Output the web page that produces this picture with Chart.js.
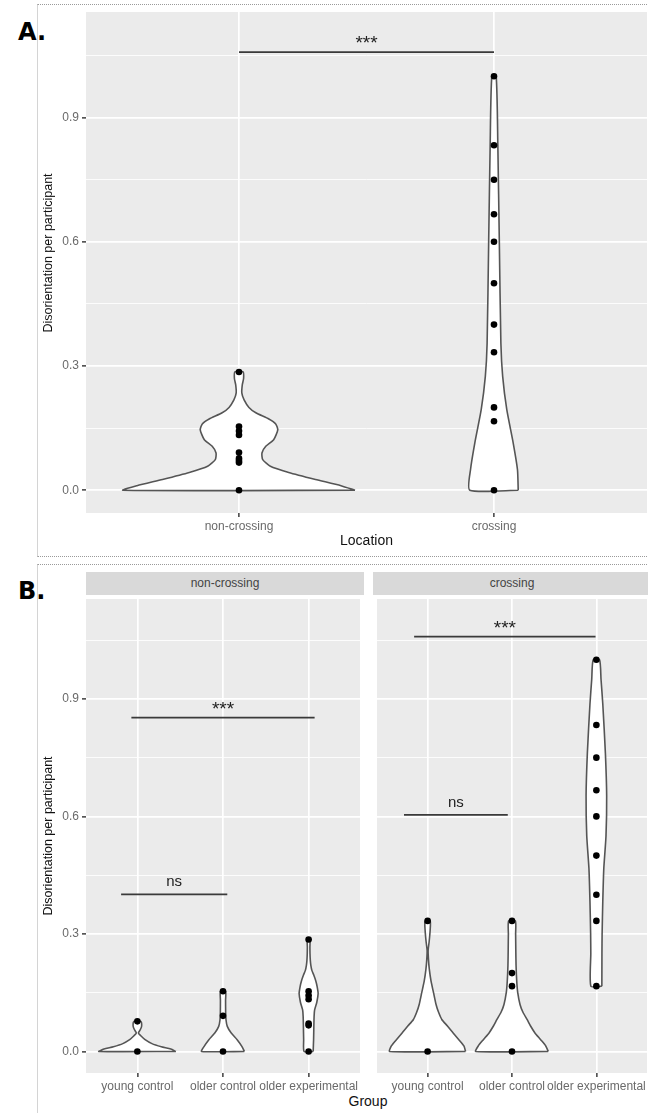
<!DOCTYPE html>
<html>
<head>
<meta charset="utf-8">
<script src="https://cdn.jsdelivr.net/npm/chart.js@4.4.1/dist/chart.umd.min.js"></script>
<style>
html, body { margin:0; padding:0; width:648px; height:1113px; overflow:hidden; background:#fff; position:relative; }
body { font-family:"Liberation Sans", Arial, Helvetica, sans-serif; }
.abs { position:absolute; }
.box { border-top:1px dotted #9a9a9a; border-left:1px solid #d4d4d4; box-sizing:border-box; }
.tag { font-family:"DejaVu Sans", Verdana, sans-serif; font-weight:bold; font-size:24px; line-height:24px; color:#000; }
.strip { background:#D9D9D9; height:23px; line-height:23px; text-align:center; font-size:12px; color:#444; }
.ytitle { width:220px; height:16px; line-height:16px; text-align:center; font-size:12.5px; color:#111; transform:rotate(-90deg); z-index:2; }
canvas { position:absolute; }
</style>
</head>
<body>
<div class="abs box" style="left:37px;top:4px;width:660px;height:553px;border-bottom:1px dotted #9a9a9a;"></div>
<div class="abs box" style="left:37px;top:564px;width:660px;height:600px;"></div>
<div class="abs tag" style="left:18px;top:20px;">A.</div>
<div class="abs tag" style="left:18px;top:579px;">B.</div>
<div class="abs strip" style="left:86px;top:572px;width:278px;">non-crossing</div>
<div class="abs strip" style="left:373px;top:572px;width:278px;">crossing</div>
<div class="abs" style="left:318px;top:1093px;width:100px;text-align:center;font-size:14px;line-height:17px;color:#111;">Group</div>
<div class="abs ytitle" id="ytitleA" style="left:-61.7px;top:245px;"></div>

<canvas id="chartA" width="614" height="552" style="left:37px;top:4px;"></canvas>
<canvas id="chartBL" width="327" height="500" style="left:37px;top:595px;"></canvas>
<canvas id="chartBR" width="278" height="500" style="left:373px;top:595px;"></canvas>

<script>
// ---------------- data ----------------
const locations = ['non-crossing', 'crossing'];
const groups = ['young control', 'older control', 'older experimental'];
const yGridValues = [0, 0.15, 0.3, 0.45, 0.6, 0.75, 0.9, 1.05];
const yTickValues = [0, 0.3, 0.6, 0.9];
const yTickLabels = ['0.0', '0.3', '0.6', '0.9'];
const yAxisTitle = 'Disorientation per participant';
const xTitleA = 'Location';

// Panel A: participant values
const dotsA_noncrossing = [0, 0.0667, 0.0714, 0.0769, 0.0909, 0.1333, 0.1429, 0.1538, 0.2857];
const dotsA_crossing = [0, 0.1667, 0.2, 0.3333, 0.4, 0.5, 0.6, 0.6667, 0.75, 0.8333, 1.0];
// Panel A: violin outlines (level, half width in category units)
const vioA_noncrossing_y = [0, 0.011, 0.026, 0.043, 0.058, 0.074, 0.09, 0.106, 0.122, 0.146, 0.16, 0.172, 0.187, 0.2, 0.218, 0.235, 0.255, 0.27, 0.2857];
const vioA_noncrossing_w = [0.455, 0.40, 0.30, 0.195, 0.123, 0.093, 0.09, 0.105, 0.136, 0.152, 0.144, 0.117, 0.066, 0.039, 0.02, 0.011, 0.013, 0.018, 0.016];
const vioA_crossing_y = [0, 0.05, 0.115, 0.195, 0.275, 0.355, 0.595, 0.835, 1.0];
const vioA_crossing_w = [0.095, 0.092, 0.075, 0.05, 0.034, 0.027, 0.021, 0.015, 0.0085];
// Panel A: significance
const sigA_text = ['***'];
const sigA_x0 = [0];
const sigA_x1 = [1];
const sigA_y = [1.058];

// Panel B, non-crossing facet
const dotsBN_young = [0, 0.0769];
const dotsBN_olderCtrl = [0, 0.0909, 0.1538];
const dotsBN_olderExp = [0, 0.0667, 0.0714, 0.1333, 0.1429, 0.1538, 0.2857];
const vioBN_young_y = [0, 0.006, 0.012, 0.02, 0.03, 0.04, 0.047, 0.056, 0.065, 0.0769];
const vioBN_young_w = [0.45, 0.39, 0.28, 0.17, 0.09, 0.04, 0.012, 0.035, 0.05, 0.04];
const vioBN_olderCtrl_y = [0, 0.013, 0.03, 0.047, 0.064, 0.081, 0.1, 0.13, 0.1538];
const vioBN_olderCtrl_w = [0.25, 0.22, 0.165, 0.096, 0.05, 0.035, 0.031, 0.03, 0.03];
const vioBN_olderExp_y = [0, 0.03, 0.064, 0.09, 0.106, 0.125, 0.148, 0.165, 0.18, 0.195, 0.207, 0.22, 0.232, 0.25, 0.266, 0.2857];
const vioBN_olderExp_w = [0.053, 0.058, 0.061, 0.064, 0.07, 0.095, 0.111, 0.1, 0.084, 0.06, 0.038, 0.026, 0.02, 0.016, 0.015, 0.015];
const sigBN_text = ['***', 'ns'];
const sigBN_x0 = [-0.07, -0.19];
const sigBN_x1 = [2.07, 1.05];
const sigBN_y = [0.852, 0.401];

// Panel B, crossing facet
const dotsBC_young = [0, 0.3333];
const dotsBC_olderCtrl = [0, 0.1667, 0.2, 0.3333];
const dotsBC_olderExp = [0.1667, 0.3333, 0.4, 0.5, 0.6, 0.6667, 0.75, 0.8333, 1.0];
const vioBC_young_y = [0, 0.014, 0.03, 0.048, 0.065, 0.081, 0.1, 0.12, 0.15, 0.18, 0.21, 0.235, 0.258, 0.28, 0.31, 0.3333];
const vioBC_young_w = [0.45, 0.43, 0.37, 0.30, 0.235, 0.17, 0.13, 0.1, 0.07, 0.04, 0.02, 0.01, 0.006, 0.018, 0.03, 0.03];
const vioBC_olderCtrl_y = [0, 0.014, 0.03, 0.048, 0.065, 0.081, 0.1, 0.12, 0.15, 0.18, 0.22, 0.26, 0.3, 0.3333];
const vioBC_olderCtrl_w = [0.43, 0.40, 0.34, 0.27, 0.22, 0.18, 0.13, 0.095, 0.068, 0.056, 0.048, 0.045, 0.043, 0.04];
const vioBC_olderExp_y = [0.1667, 0.25, 0.3, 0.383, 0.467, 0.55, 0.652, 0.761, 0.887, 0.95, 1.0];
const vioBC_olderExp_w = [0.065, 0.066, 0.068, 0.076, 0.088, 0.114, 0.122, 0.107, 0.076, 0.055, 0.038];
const sigBC_text = ['***', 'ns'];
const sigBC_x0 = [-0.16, -0.28];
const sigBC_x1 = [1.99, 0.95];
const sigBC_y = [1.059, 0.604];

// ---------------- drawing ----------------
const FONT = '"Liberation Sans", Arial, Helvetica, sans-serif';
const Y_MIN = -0.055, Y_MAX = 1.155;
document.getElementById('ytitleA').textContent = yAxisTitle;

function violinOutline(cx, ys, ws) {
  const right = ys.map((y, i) => ({x: cx + ws[i], y: y}));
  const left = ys.map((y, i) => ({x: cx - ws[i], y: y})).reverse();
  return right.concat(left, [right[0]]);
}
function isMajor(v) { return yTickValues.some(t => Math.abs(t - v) < 1e-6); }

const bgPlugin = {
  id: 'panelBg',
  beforeDraw(chart) {
    const {ctx, chartArea: a} = chart;
    ctx.save();
    ctx.fillStyle = '#EBEBEB';
    ctx.fillRect(a.left, a.top, a.right - a.left, a.bottom - a.top);
    ctx.restore();
  }
};
const sigTextPlugin = {
  id: 'sigText',
  afterDatasetsDraw(chart, args, o) {
    const ctx = chart.ctx, xs = chart.scales.x, ys = chart.scales.y;
    (o.items || []).forEach(it => {
      ctx.save();
      const ns = it.text === 'ns';
      ctx.font = (ns ? '15px ' : '19px ') + FONT;
      ctx.fillStyle = '#222';
      ctx.textAlign = 'center';
      ctx.textBaseline = 'alphabetic';
      ctx.fillText(it.text, xs.getPixelForValue(it.x), ys.getPixelForValue(it.y) - (ns ? 8 : 3));
      ctx.restore();
    });
  }
};

function makePanel(id, cats, vios, dots, sig, cfg) {
  const datasets = [];
  dots.forEach((vals, i) => datasets.push({
    data: vals.map(v => ({x: i, y: v})), showLine: false,
    pointRadius: 3.3, pointBackgroundColor: '#000', pointBorderWidth: 0, order: 0
  }));
  sig.text.forEach((t, i) => datasets.push({
    data: [{x: sig.x0[i], y: sig.y[i]}, {x: sig.x1[i], y: sig.y[i]}],
    borderColor: '#3a3a3a', borderWidth: 1.8, pointRadius: 0, fill: false, order: 1
  }));
  vios.forEach((v, i) => datasets.push({
    data: violinOutline(i, v.y, v.w), borderColor: '#555', borderWidth: 1.6,
    backgroundColor: '#fff', fill: 'shape', tension: 0.2, pointRadius: 0, order: 2
  }));

  const yScale = {
    type: 'linear', bounds: 'data', min: Y_MIN, max: Y_MAX,
    afterBuildTicks: s => { s.ticks = yGridValues.map(v => ({value: v})); },
    afterFit: s => { s.width = cfg.yWidth; s.paddingTop = 0; s.paddingBottom = 0; },
    border: {display: false},
    grid: {
      color: '#fff',
      lineWidth: c => (c.tick && isMajor(c.tick.value)) ? 1.7 : 0.85,
      tickColor: c => (c.tick && isMajor(c.tick.value)) ? '#555' : 'rgba(0,0,0,0)',
      tickLength: 4, drawTicks: cfg.yLabels
    },
    ticks: {
      display: cfg.yLabels, autoSkip: false, padding: 3, color: '#6a6a6a',
      font: {family: FONT, size: 12},
      callback: v => { const i = yTickValues.findIndex(t => Math.abs(t - v) < 1e-6); return i >= 0 ? yTickLabels[i] : ''; }
    },
    title: cfg.yTitle ? {display: true, text: yAxisTitle, color: '#111', font: {family: FONT, size: 12.5}, padding: {top: 3.8, bottom: 0}} : {display: false}
  };
  const xScale = {
    type: 'linear', bounds: 'data', min: -0.6, max: cats.length - 0.4,
    afterBuildTicks: s => { s.ticks = cats.map((c, i) => ({value: i})); },
    afterFit: s => { s.height = cfg.xHeight; s.paddingLeft = 0; s.paddingRight = 0; },
    border: {display: false},
    grid: {color: '#fff', lineWidth: 1.7, tickColor: '#555', tickLength: 4},
    ticks: {autoSkip: false, maxRotation: 0, minRotation: 0, padding: 2, color: '#6a6a6a',
      font: {family: FONT, size: 12}, callback: v => cats[v]},
    title: cfg.xTitle ? {display: true, text: cfg.xTitle, color: '#111', font: {family: FONT, size: 14}, padding: {top: 0, bottom: 6}} : {display: false}
  };

  return new Chart(document.getElementById(id), {
    type: 'line',
    data: {datasets},
    options: {
      responsive: false, animation: false, devicePixelRatio: 1, events: [],
      layout: {padding: {top: cfg.padTop, left: 0, right: 0, bottom: 0}},
      plugins: {
        legend: {display: false}, tooltip: {enabled: false},
        sigText: {items: sig.text.map((t, i) => ({text: t, x: (sig.x0[i] + sig.x1[i]) / 2, y: sig.y[i]}))}
      },
      scales: {x: xScale, y: yScale}
    },
    plugins: [bgPlugin, sigTextPlugin]
  });
}

makePanel('chartA', locations,
  [{y: vioA_noncrossing_y, w: vioA_noncrossing_w}, {y: vioA_crossing_y, w: vioA_crossing_w}],
  [dotsA_noncrossing, dotsA_crossing],
  {text: sigA_text, x0: sigA_x0, x1: sigA_x1, y: sigA_y},
  {padTop: 8, xHeight: 43, yWidth: 49, yLabels: true, yTitle: false, xTitle: xTitleA});

makePanel('chartBL', groups,
  [{y: vioBN_young_y, w: vioBN_young_w}, {y: vioBN_olderCtrl_y, w: vioBN_olderCtrl_w}, {y: vioBN_olderExp_y, w: vioBN_olderExp_w}],
  [dotsBN_young, dotsBN_olderCtrl, dotsBN_olderExp],
  {text: sigBN_text, x0: sigBN_x0, x1: sigBN_x1, y: sigBN_y},
  {padTop: 0, xHeight: 22, yWidth: 49, yLabels: true, yTitle: true, xTitle: null});

makePanel('chartBR', groups,
  [{y: vioBC_young_y, w: vioBC_young_w}, {y: vioBC_olderCtrl_y, w: vioBC_olderCtrl_w}, {y: vioBC_olderExp_y, w: vioBC_olderExp_w}],
  [dotsBC_young, dotsBC_olderCtrl, dotsBC_olderExp],
  {text: sigBC_text, x0: sigBC_x0, x1: sigBC_x1, y: sigBC_y},
  {padTop: 0, xHeight: 22, yWidth: 0, yLabels: false, yTitle: false, xTitle: null});
</script>
</body>
</html>
